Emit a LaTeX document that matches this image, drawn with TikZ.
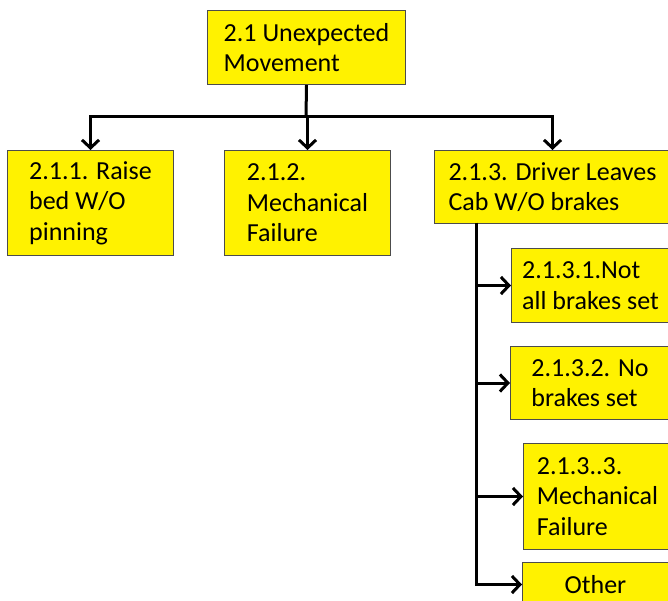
\documentclass[tikz,border=0pt]{standalone}
\usepackage{fontspec}
\setmainfont{Carlito}
\usetikzlibrary{arrows.meta}
\begin{document}
\begin{tikzpicture}[x=1pt,y=-1pt,
  box/.style={draw=black!70, line width=1pt, fill=yellow, inner sep=0pt, align=left,
    anchor=north west, font=\fontsize{26}{30.5}\selectfont},
  link/.style={line width=3pt, black},
  arr/.style={link, -{Straight Barb[length=8pt,width=17pt,line width=3pt]}}]
\useasboundingbox (0,0) rectangle (668,601);
\clip (0,0) rectangle (668,601);
\fill[white] (0,0) rectangle (668,601);
\node[box, minimum width=198pt, minimum height=74pt] (top) at (207,10) {2.1 Unexpected\\Movement};
\node[box, minimum width=166pt, minimum height=105pt] (b1) at (7,150) {2.1.1. Raise\\bed W/O\\pinning};
\node[box, minimum width=166pt, minimum height=105pt] (b2) at (224,150) {2.1.2.\\Mechanical\\Failure};
\node[box, minimum width=236pt, minimum height=73pt] (b3) at (434,150) {2.1.3. Driver Leaves\\Cab W/O brakes};
\node[box, minimum width=158pt, minimum height=74pt] (b31) at (511,248) {2.1.3.1.Not\\all brakes set};
\node[box, minimum width=159pt, minimum height=73pt] (b32) at (510,346) {2.1.3.2. No\\brakes set};
\node[box, minimum width=148pt, minimum height=106pt] (b33) at (523,443) {2.1.3..3.\\Mechanical\\Failure};
\node[box, minimum width=146pt, minimum height=44pt] (oth) at (522,562) {Other};
\coordinate (hub) at (306,117);
\coordinate (s0) at (476,223);
\draw[link] (top.south) -- (hub);
\draw[arr] (hub) -| (b1.north);
\draw[arr] (hub) -| (b2.north);
\draw[arr] (hub) -| (b3.north);
\draw[arr] (s0) |- (b31.west);
\draw[arr] (s0) |- (b32.west);
\draw[arr] (s0) |- (b33.west);
\draw[arr] (s0) |- (oth.west);
\end{tikzpicture}
\end{document}
